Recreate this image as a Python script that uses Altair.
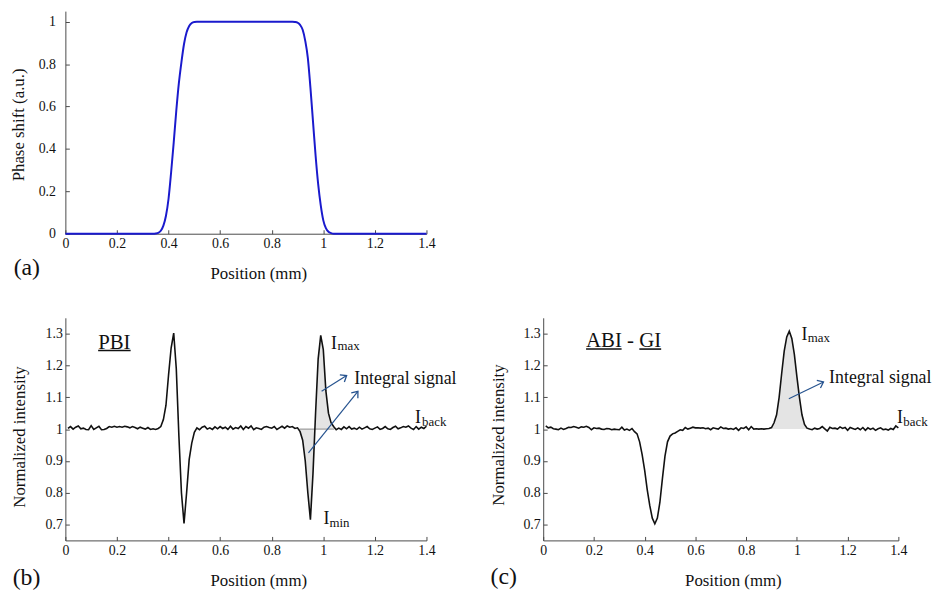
import altair as alt
import pandas as pd

FONT = "'Liberation Serif', 'Times New Roman', Times, 'DejaVu Serif', serif"
AXIS_COLOR = "#4a4a4a"
TEXT_COLOR = "#111111"
BLUE = "#1a1acd"
ARROW = "#26538f"
FILL = "#e4e4e4"

# ---------------- tick values ----------------
x_ticks = [0, 0.2, 0.4, 0.6, 0.8, 1, 1.2, 1.4]
a_y_ticks = [0, 0.2, 0.4, 0.6, 0.8, 1]
bc_y_ticks = [0.7, 0.8, 0.9, 1, 1.1, 1.2, 1.3]

# ---------------- panel (a): phase shift ----------------
a_pos = [0.0, 0.34, 0.35, 0.36, 0.37, 0.38, 0.39, 0.40, 0.41, 0.42, 0.43, 0.44,
         0.45, 0.46, 0.47, 0.48, 0.49, 0.50, 0.51, 0.52, 0.88, 0.89, 0.90, 0.91,
         0.92, 0.93, 0.94, 0.95, 0.96, 0.97, 0.98, 0.99, 1.00, 1.01, 1.02, 1.03,
         1.04, 1.05, 1.4]
a_phase = [0.0, 0.0, 0.001, 0.004, 0.014, 0.038, 0.085, 0.165, 0.29, 0.43, 0.58, 0.71,
           0.81, 0.895, 0.95, 0.98, 0.994, 0.999, 1.0, 1.0, 1.0, 0.999, 0.996, 0.985,
           0.962, 0.91, 0.83, 0.69, 0.53, 0.37, 0.235, 0.135, 0.063, 0.026, 0.009, 0.003,
           0.0, 0.0, 0.0]

# ---------------- panels (b) and (c): normalized intensity ----------------
bc_pos = [round(0.01 * i, 2) for i in range(1, 141)]
b_intensity = [
    1.002, 1.008, 1.000, 1.006, 1.010, 1.001, 1.003, 0.999, 0.998, 1.011,
    0.999, 1.004, 1.009, 0.998, 0.999, 1.002, 1.008, 1.006, 1.009, 1.006,
    1.008, 1.006, 1.009, 1.007, 1.004, 1.008, 1.005, 1.001, 1.006, 1.003,
    1.000, 1.005, 0.999, 1.001, 0.999, 1.002, 1.008, 1.030, 1.075, 1.170,
    1.255, 1.302, 1.190, 0.980, 0.800, 0.703, 0.800, 0.905, 0.956, 0.990,
    1.004, 0.998, 1.006, 1.009, 1.000, 1.004, 0.999, 1.007, 1.001, 1.008,
    1.002, 1.006, 0.999, 1.009, 1.000, 1.005, 1.002, 1.010, 0.999, 1.008,
    1.003, 1.010, 0.998, 1.004, 1.002, 0.999, 1.006, 1.008, 1.005, 1.003,
    1.008, 0.999, 1.004, 1.009, 1.003, 1.010, 1.006, 1.008, 1.002, 1.004,
    0.992, 0.965, 0.900, 0.800, 0.715, 0.860, 1.050, 1.220, 1.295, 1.250,
    1.120, 1.050, 1.020, 1.008, 0.998, 1.003, 0.999, 1.007, 1.001, 1.008,
    1.000, 1.003, 0.999, 1.006, 1.000, 1.004, 1.008, 1.001, 0.999, 1.003,
    1.007, 0.999, 1.002, 1.008, 1.001, 0.999, 1.005, 1.009, 1.001, 1.004,
    1.008, 1.006, 1.010, 1.003, 0.999, 1.008, 1.000, 1.006, 1.002, 1.009,
]
c_intensity = [
    1.010, 1.004, 1.006, 1.001, 1.000, 0.998, 1.003, 0.999, 1.002, 1.006,
    1.005, 1.008, 1.006, 1.003, 1.007, 1.006, 1.009, 1.005, 0.998, 1.004,
    1.002, 1.003, 1.000, 0.999, 1.002, 1.001, 0.998, 1.000, 0.999, 0.998,
    1.006, 0.997, 1.000, 0.996, 1.002, 0.992, 0.985, 0.960, 0.920, 0.870,
    0.810, 0.760, 0.720, 0.702, 0.720, 0.770, 0.845, 0.915, 0.960, 0.978,
    0.985, 0.988, 0.993, 0.998, 0.996, 1.005, 1.000, 1.003, 1.006, 1.004,
    1.004, 1.003, 1.004, 1.001, 1.003, 0.998, 1.004, 1.002, 1.000, 1.007,
    1.002, 1.003, 1.000, 1.002, 0.999, 1.004, 0.996, 1.004, 1.002, 1.007,
    0.998, 1.008, 1.000, 1.001, 1.000, 1.001, 1.000, 1.001, 1.002, 1.005,
    1.020, 1.045, 1.100, 1.175, 1.245, 1.290, 1.308, 1.285, 1.235, 1.165,
    1.100, 1.045, 1.015, 1.003, 1.000, 0.998, 1.003, 1.000, 1.002, 1.008,
    1.001, 0.994, 1.006, 1.002, 1.003, 1.000, 1.007, 1.002, 1.005, 0.996,
    1.005, 1.002, 0.999, 1.004, 0.998, 1.005, 0.996, 1.004, 0.999, 1.003,
    0.996, 1.001, 1.004, 0.998, 1.000, 0.997, 1.002, 0.999, 1.010, 1.004,
]

# shaded "integral signal" ranges
b_shade_range = [0.90, 1.05]
c_shade_range = [0.89, 1.05]
b_shade_base = [0.908, 1.042]

# ---------------- annotations (data coordinates) ----------------
b_text = ["PBI", "I", "max", "I", "min", "Integral signal", "I", "back"]
b_text_x = [0.127, 1.030, 1.0548, 1.001, 1.024, 1.12, 1.356, 1.3828]
b_text_y = [1.2534, 1.2534, 1.2491, 0.7029, 0.6926, 1.1426, 1.0185, 1.0107]
b_text_s = [21, 18, 13, 18, 13, 18, 18, 13]

c_text = ["ABI - GI", "I", "max", "Integral signal", "I", "back"]
c_text_x = [0.169, 1.0178, 1.0432, 1.127, 1.3949, 1.4195]
c_text_y = [1.258, 1.2788, 1.2732, 1.1453, 1.019, 1.0111]
c_text_s = [21, 18, 13, 18, 18, 13]

b_under_x = [0.127]
b_under_x2 = [0.253]
b_under_y = [1.2472]
c_under_x = [0.169, 0.379]
c_under_x2 = [0.309, 0.465]
c_under_y = [1.2517, 1.2517]

b_arrow_x = [0.9934, 0.9424]
b_arrow_y = [1.1187, 0.9254]
b_arrow_x2 = [1.0905, 1.1342]
b_arrow_y2 = [1.1684, 1.1187]
b_arrow_ang = [57.7, 38.7]
c_arrow_x = [0.9683]
c_arrow_y = [1.0957]
c_arrow_x2 = [1.1048]
c_arrow_y2 = [1.1484]
c_arrow_ang = [64.5]

HEAD = "M-0.75,0.95L0,0L0.75,0.95"


def scales(ydom):
    return (alt.Scale(domain=[0, 1.4], nice=False, zero=False),
            alt.Scale(domain=ydom, nice=False, zero=False))


def base_layers(df, color, lw, interp, xs, ys, yticks, w, h, ytitle, ytx, yty,
                xtx, xty, ylabpad, xlabpad, label, lab_x, lab_y):
    x_main = alt.X("x:Q", scale=xs, axis=alt.Axis(
        orient="bottom", values=x_ticks, format="~g", title="Position (mm)",
        titleX=xtx, titleY=xty, titleAlign="center", titleBaseline="middle",
        ticks=False, tickSize=0, labelPadding=xlabpad, labelFlush=False, grid=False))
    y_main = alt.Y("y:Q", scale=ys, axis=alt.Axis(
        orient="left", values=yticks, format="~g", title=ytitle,
        titleX=ytx, titleY=yty, titleAlign="center", titleBaseline="middle",
        ticks=False, tickSize=0, labelPadding=ylabpad, labelFlush=False, grid=False))
    line = alt.Chart(df).mark_line(color=color, strokeWidth=lw, interpolate=interp).encode(
        x=x_main, y=y_main)
    ticks = alt.Chart(df).mark_line(opacity=0).encode(
        x=alt.X("x:Q", scale=xs, axis=alt.Axis(
            orient="top", offset=-h, values=x_ticks, labels=False, domain=False,
            ticks=True, tickSize=4, title=None, grid=False)),
        y=alt.Y("y:Q", scale=ys, axis=alt.Axis(
            orient="right", offset=-w, values=yticks, labels=False, domain=False,
            ticks=True, tickSize=4, title=None, grid=False)))
    lab = alt.Chart(pd.DataFrame({"t": [label]})).mark_text(
        align="left", baseline="middle", fontSize=24, font=FONT, color=TEXT_COLOR
    ).encode(text="t:N", x=alt.value(lab_x), y=alt.value(lab_y))
    return line, ticks, lab


def annot_layers(xs, ys, texts, tx, ty, ts, ux, ux2, uy, ax, ay, ax2, ay2, aang):
    tdf = pd.DataFrame({"t": texts, "x": tx, "y": ty, "s": ts})
    txt = alt.Chart(tdf).mark_text(align="left", baseline="alphabetic", font=FONT,
                                   color=TEXT_COLOR).encode(
        x=alt.X("x:Q", scale=xs, axis=None), y=alt.Y("y:Q", scale=ys, axis=None),
        text="t:N", size=alt.Size("s:Q", scale=None))
    udf = pd.DataFrame({"x": ux, "x2": ux2, "y": uy})
    und = alt.Chart(udf).mark_rule(color=TEXT_COLOR, strokeWidth=1.6).encode(
        x=alt.X("x:Q", scale=xs, axis=None), x2="x2:Q",
        y=alt.Y("y:Q", scale=ys, axis=None))
    adf = pd.DataFrame({"x": ax, "y": ay, "x2": ax2, "y2": ay2, "ang": aang})
    shaft = alt.Chart(adf).mark_rule(color=ARROW, strokeWidth=1.2).encode(
        x=alt.X("x:Q", scale=xs, axis=None), x2="x2:Q",
        y=alt.Y("y:Q", scale=ys, axis=None), y2="y2:Q")
    head = alt.Chart(adf).mark_point(shape=HEAD, filled=False, size=130, strokeWidth=1.3,
                                     color=ARROW, opacity=1).encode(
        x=alt.X("x2:Q", scale=xs, axis=None), y=alt.Y("y2:Q", scale=ys, axis=None),
        angle=alt.Angle("ang:Q", scale=None))
    return [txt, und, shaft, head]


# ---------------- panel (a) ----------------
W1, H1 = 365, 225
xs_a, ys_a = scales([0, 1.05])
a_df = pd.DataFrame({"x": a_pos, "y": a_phase})
a_line, a_ticks, a_lab = base_layers(
    a_df, BLUE, 2.0, "monotone", xs_a, ys_a, a_y_ticks, W1, H1,
    "Phase shift (a.u.)", -47.7, 114.5, 195, 40.5, 10, 3, "(a)", -52.3, 260)
panel_a = alt.layer(a_line, a_ticks, a_lab).resolve_axis(
    x="independent", y="independent").properties(width=W1, height=H1)

# ---------------- panel (b) ----------------
W2, H2 = 365, 225
xs_b, ys_b = scales([0.65, 1.35])
b_df = pd.DataFrame({"x": bc_pos, "y": b_intensity})
b_sh = b_df[(b_df.x >= b_shade_range[0]) & (b_df.x <= b_shade_range[1])]
b_area = alt.Chart(b_sh).mark_area(color=FILL, opacity=1).encode(
    x=alt.X("x:Q", scale=xs_b, axis=None), y=alt.Y("y:Q", scale=ys_b, axis=None),
    y2=alt.datum(1.0))
b_base = alt.Chart(pd.DataFrame({"x": [b_shade_base[0]], "x2": [b_shade_base[1]], "y": [1.0]})
                   ).mark_rule(color="#8a8a8a", strokeWidth=1).encode(
    x=alt.X("x:Q", scale=xs_b, axis=None), x2="x2:Q", y=alt.Y("y:Q", scale=ys_b, axis=None))
b_line, b_ticks, b_lab = base_layers(
    b_df, "#111111", 1.6, "linear", xs_b, ys_b, bc_y_ticks, W2, H2,
    "Normalized intensity", -46, 120, 195, 41, 3, 3, "(b)", -53.3, 263)
b_ann = annot_layers(xs_b, ys_b, b_text, b_text_x, b_text_y, b_text_s,
                     b_under_x, b_under_x2, b_under_y,
                     b_arrow_x, b_arrow_y, b_arrow_x2, b_arrow_y2, b_arrow_ang)
panel_b = alt.layer(b_area, b_base, b_line, b_ticks, b_lab, *b_ann).resolve_axis(
    x="independent", y="independent").properties(width=W2, height=H2)

# ---------------- panel (c) ----------------
W3, H3 = 359, 225
xs_c, ys_c = scales([0.65, 1.35])
c_df = pd.DataFrame({"x": bc_pos, "y": c_intensity})
c_sh = c_df[(c_df.x >= c_shade_range[0]) & (c_df.x <= c_shade_range[1])]
c_area = alt.Chart(c_sh).mark_area(color=FILL, opacity=1).encode(
    x=alt.X("x:Q", scale=xs_c, axis=None), y=alt.Y("y:Q", scale=ys_c, axis=None),
    y2=alt.datum(1.0))
c_line, c_ticks, c_lab = base_layers(
    c_df, "#111111", 1.6, "linear", xs_c, ys_c, bc_y_ticks, W3, H3,
    "Normalized intensity", -45.5, 118, 191.7, 41, 3, 3, "(c)", -53.3, 262)
c_ann = annot_layers(xs_c, ys_c, c_text, c_text_x, c_text_y, c_text_s,
                     c_under_x, c_under_x2, c_under_y,
                     c_arrow_x, c_arrow_y, c_arrow_x2, c_arrow_y2, c_arrow_ang)
panel_c = alt.layer(c_area, c_line, c_ticks, c_lab, *c_ann).resolve_axis(
    x="independent", y="independent").properties(width=W3, height=H3)

# empty grid cell (top right), its invisible mark kept well inside the cell
blank = alt.Chart(pd.DataFrame({"v": [0]})).mark_point(opacity=0, size=1).encode(
    x=alt.value(100), y=alt.value(100)).properties(width=W3, height=H1)

chart = alt.concat(
    panel_a, blank, panel_b, panel_c, columns=2,
    spacing={"row": 85, "column": 118}, bounds="flush", align="each"
).properties(
    padding={"left": 1, "top": 0, "right": 0, "bottom": 0}, background="white"
).configure_view(stroke=None).configure_axis(
    labelFont=FONT, labelFontSize=14, labelColor=TEXT_COLOR,
    titleFont=FONT, titleFontSize=17, titleFontWeight="normal", titleColor=TEXT_COLOR,
    domainColor=AXIS_COLOR, tickColor=AXIS_COLOR, domainWidth=1, tickWidth=1
).configure_text(font=FONT)

chart.save("out.html", embed_options={"renderer": "svg", "actions": False})
